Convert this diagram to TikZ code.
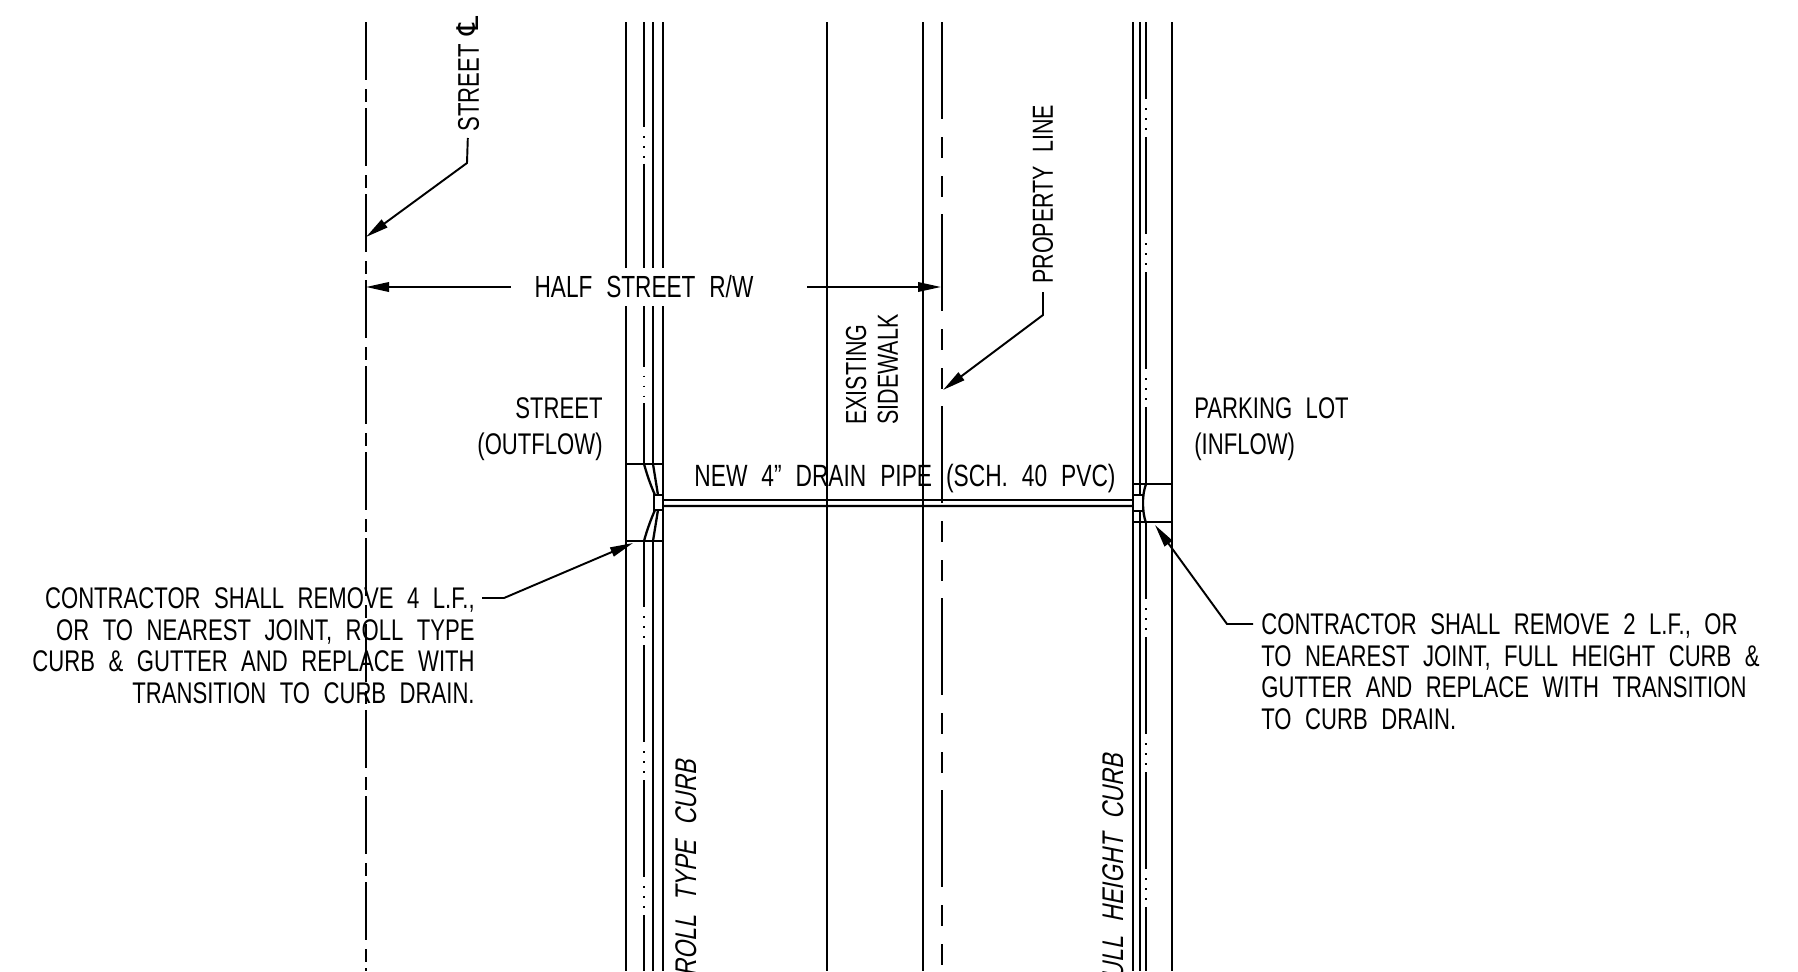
\documentclass[tikz,border=0pt]{standalone}
\usepackage{fontspec}
\setmainfont[FakeStretch=0.74,WordSpace=2.2]{Liberation Sans}
\newfontfamily\curbslant[FakeStretch=0.775,WordSpace=2.3,FakeSlant=0.2]{Liberation Sans}
\newfontfamily\clmark{DejaVu Sans}
\usetikzlibrary{arrows.meta}
\tikzset{
	wall/.style={line width=1.3pt},
	centerln/.style={wall,dash pattern=on 11.6mm off 1.8mm on 2.6mm off 1.2mm},
	propln/.style={wall,dash pattern=on 19.4mm off 3.6mm on 4.2mm off 3.6mm on 4.2mm off 3.4mm},
	jointln/.style={wall,dash pattern=on 19.4mm off 1.8mm on .3mm off 1.7mm on .3mm off 1.7mm on .3mm off 1.5mm},
	longjointln/.style={wall,dash pattern=on 40.6mm off 1.8mm on .3mm off 1.7mm on .3mm off 1.7mm on .3mm off 1.2mm},
	leader/.style={line width=1.1pt,-{Stealth[length=4.6mm,width=1.9mm,inset=0pt]}},
	label/.style={inner sep=0pt,font=\fontsize{17pt}{18.14pt}\selectfont},
	sidelabel/.style={inner sep=0pt,rotate=90,anchor=west,font=\fontsize{16.5pt}{18.14pt}\selectfont},
	curblabel/.style={inner sep=0pt,rotate=90,anchor=east,font=\fontsize{17pt}{18.14pt}\curbslant},
	inlet/.style={draw,line width=1.1pt,fill=white,inner sep=0pt},
}
\begin{document}
\begin{tikzpicture}[x=.2mm,y=-.2mm]
	\useasboundingbox (0,0) rectangle (1798,971);
	\draw[centerln] (366,22) -- (366,971);
	\draw[propln] (942,22) -- (942,971);
	\draw[wall] (827,22) -- (827,971);
	\draw[wall] (923,22) -- (923,971);
	\draw[wall] (626,22) -- (626,971);
	\draw[wall] (663,22) -- (663,971);
	\draw[wall] (653,22) -- (653,464) (653,541) -- (653,971);
	\draw[longjointln,dash phase=19.6mm] (644,22) -- (644,464);
	\draw[jointln,dash phase=6.2mm] (644,541) -- (644,971);
	\draw[wall] (1133,22) -- (1133,971);
	\draw[wall] (1140,22) -- (1140,971);
	\draw[wall] (1172,22) -- (1172,971);
	\draw[jointln,dash phase=4mm] (1146,22) -- (1146,484);
	\draw[jointln,dash phase=4.2mm] (1146,523) -- (1146,971);
	\draw[wall] (626,464) -- (663,464) (626,541) -- (663,541);
	\draw[wall] (1133,484) -- (1172,484) (1133,522) -- (1172,522);
	\draw[wall] (644,464) .. controls (648,478) and (651,486) .. (655,495);
	\draw[wall] (653,464) -- (658,495);
	\draw[wall] (644,541) .. controls (647,530) and (651,519) .. (655,510);
	\draw[wall] (653,541) -- (658,510);
	\draw[wall] (1146,484) .. controls (1144,490) and (1143,495) .. (1143,503) .. controls (1143,511) and (1144,517) .. (1146,523);
	\node[inlet,minimum width=1.8mm,minimum height=3mm] (outbox) at (658.5,502.5) {};
	\node[inlet,minimum width=2mm,minimum height=3.2mm] (inbox) at (1138,503) {};
	\draw[wall] ([shift={(0,-2.5)}]outbox.east) -- ([shift={(0,-3)}]inbox.west);
	\draw[wall] ([shift={(0,3.5)}]outbox.east) -- ([shift={(0,3)}]inbox.west);
	\node[label,fill=white,minimum width=59.2mm,minimum height=7.6mm,font=\fontsize{17.4pt}{18.14pt}\selectfont] (halfrw) at (659,287) {HALF STREET R/W\kern6mm};
	\coordinate (cldim) at (366,287);
	\coordinate (propdim) at (941,287);
	\draw[leader] (halfrw.west) -- (cldim);
	\draw[leader] (halfrw.east) -- (propdim);
	\node[label,rotate=90,anchor=west] (streetcl) at (468,132) {STREET\hspace{1.8mm}{\clmark\fontsize{17pt}{18pt}\selectfont ℄}};
	\coordinate (clbend) at (467,163);
	\coordinate (cltip) at (366,237);
	\draw[leader,shorten <=1.2mm] (streetcl.west) -- (clbend) -- (cltip);
	\node[sidelabel] (propline) at (1043,284) {PROPERTY LINE};
	\coordinate (propbend) at (1043,315);
	\coordinate (proptip) at (943,390);
	\draw[leader,shorten <=1.6mm] (propline.west) -- (propbend) -- (proptip);
	\node[sidelabel,align=left] (walk) at (872,425) {EXISTING\\SIDEWALK};
	\node[label,anchor=base,font=\fontsize{17.5pt}{20pt}\selectfont] (pipelabel) at (905,486) {NEW 4” DRAIN PIPE (SCH. 40 PVC)};
	\node[label,anchor=east,align=right] (outflow) at (603,429) {STREET\\[2.3pt](OUTFLOW)};
	\node[label,anchor=west,align=left] (inflow) at (1194,429) {PARKING LOT\\[2.3pt](INFLOW)};
	\node[label,anchor=north east,align=right] (leftnote) at (475,587) {CONTRACTOR SHALL REMOVE 4 L.F.,\\OR TO NEAREST JOINT, ROLL TYPE\\CURB \& GUTTER AND REPLACE WITH\\TRANSITION TO CURB DRAIN.};
	\coordinate (leftbend) at (504,598);
	\coordinate (lefttip) at (633,543);
	\draw[leader] ([shift={(7,11)}]leftnote.north east) -- (leftbend) -- (lefttip);
	\node[label,anchor=north west,align=left] (rightnote) at (1261,613) {CONTRACTOR SHALL REMOVE 2 L.F., OR\\TO NEAREST JOINT, FULL HEIGHT CURB \&\\GUTTER AND REPLACE WITH TRANSITION\\TO CURB DRAIN.};
	\coordinate (rightbend) at (1227,624);
	\coordinate (righttip) at (1155,525);
	\draw[leader] ([shift={(-8,11)}]rightnote.north west) -- (rightbend) -- (righttip);
	\node[curblabel] (rollcurb) at (686,760) {ROLL TYPE CURB};
	\node[curblabel] (fullcurb) at (1113,754) {FULL HEIGHT CURB};
\end{tikzpicture}
\end{document}
